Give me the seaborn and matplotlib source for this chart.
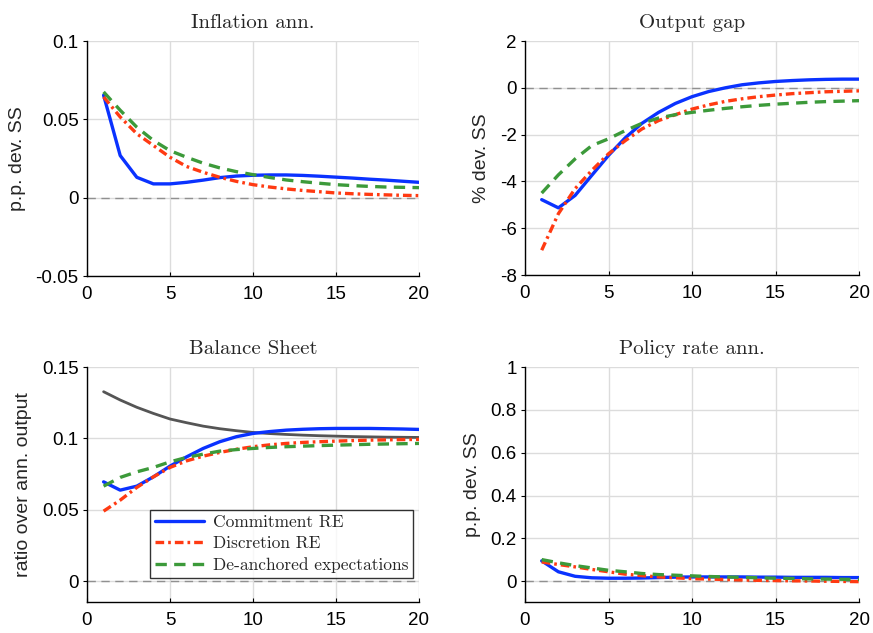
import numpy as np
import pandas as pd
import matplotlib
matplotlib.use("Agg")
import matplotlib.pyplot as plt
import seaborn as sns
from matplotlib.ticker import FuncFormatter

sns.set_style("white")
plt.rcParams["font.family"] = ["Liberation Sans", "DejaVu Sans"]
plt.rcParams["axes.unicode_minus"] = False

t = list(range(1, 21))

# Inflation ann. (p.p. dev. SS)
infl_commit = [0.0654, 0.0269, 0.0130, 0.0088, 0.0088, 0.0098, 0.0112, 0.0128, 0.0138, 0.0143,
               0.0145, 0.0145, 0.0142, 0.0137, 0.0131, 0.0125, 0.0118, 0.0112, 0.0105, 0.0098]
infl_discr = [0.0643, 0.0515, 0.0408, 0.0333, 0.0258, 0.0199, 0.0162, 0.0130, 0.0104, 0.0083,
              0.0068, 0.0056, 0.0046, 0.0038, 0.0030, 0.0025, 0.0021, 0.0018, 0.0015, 0.0013]
infl_deanch = [0.0675, 0.0558, 0.0450, 0.0365, 0.0300, 0.0258, 0.0220, 0.0190, 0.0166, 0.0147,
               0.0129, 0.0113, 0.0102, 0.0092, 0.0083, 0.0077, 0.0072, 0.0068, 0.0066, 0.0064]

# Output gap (% dev. SS)
gap_commit = [-4.78, -5.13, -4.60, -3.74, -2.89, -2.14, -1.52, -1.05, -0.67, -0.38,
              -0.16, 0.00, 0.13, 0.21, 0.27, 0.31, 0.34, 0.36, 0.37, 0.37]
gap_discr = [-6.94, -5.38, -4.31, -3.53, -2.82, -2.26, -1.76, -1.40, -1.15, -0.91,
             -0.73, -0.58, -0.47, -0.38, -0.31, -0.25, -0.21, -0.17, -0.15, -0.13]
gap_deanch = [-4.50, -3.72, -3.04, -2.47, -2.18, -1.83, -1.52, -1.29, -1.15, -1.05,
              -0.96, -0.88, -0.81, -0.75, -0.70, -0.66, -0.62, -0.59, -0.57, -0.55]

# Balance Sheet (ratio over ann. output)
bs_commit = [0.0696, 0.0638, 0.0666, 0.0731, 0.0806, 0.0871, 0.0930, 0.0977, 0.1012, 0.1035,
             0.1048, 0.1058, 0.1064, 0.1068, 0.1070, 0.1070, 0.1070, 0.1068, 0.1066, 0.1063]
bs_discr = [0.0491, 0.0568, 0.0657, 0.0731, 0.0797, 0.0843, 0.0876, 0.0902, 0.0924, 0.0942,
            0.0955, 0.0965, 0.0972, 0.0977, 0.0981, 0.0985, 0.0988, 0.0990, 0.0992, 0.0993]
bs_deanch = [0.0666, 0.0727, 0.0766, 0.0797, 0.0836, 0.0867, 0.0890, 0.0911, 0.0922, 0.0930,
             0.0937, 0.0942, 0.0946, 0.0950, 0.0953, 0.0956, 0.0959, 0.0961, 0.0963, 0.0965]
bs_ss = [0.1327, 0.1269, 0.1218, 0.1175, 0.1136, 0.1110, 0.1086, 0.1068, 0.1054, 0.1042,
         0.1034, 0.1028, 0.1023, 0.1019, 0.1016, 0.1013, 0.1011, 0.1009, 0.1008, 0.1007]

# Policy rate ann. (p.p. dev. SS)
pr_commit = [0.095, 0.044, 0.023, 0.016, 0.014, 0.014, 0.015, 0.017, 0.019, 0.020,
             0.020, 0.020, 0.020, 0.019, 0.019, 0.018, 0.018, 0.018, 0.017, 0.017]
pr_discr = [0.090, 0.078, 0.067, 0.055, 0.044, 0.033, 0.026, 0.020, 0.016, 0.012,
            0.010, 0.008, 0.006, 0.004, 0.003, 0.002, 0.001, 0.000, -0.001, -0.002]
pr_deanch = [0.101, 0.086, 0.073, 0.062, 0.051, 0.044, 0.036, 0.031, 0.028, 0.025,
             0.022, 0.020, 0.018, 0.016, 0.014, 0.013, 0.011, 0.010, 0.009, 0.008]

titles = ["Inflation ann.", "Output gap", "Balance Sheet", "Policy rate ann."]
ylabels = ["p.p. dev. SS", "% dev. SS", "ratio over ann. output", "p.p. dev. SS"]
labels = ["Commitment RE", "Discretion RE", "De-anchored expectations"]
ylims = [(-0.05, 0.1), (-8, 2), (-0.0145, 0.15), (-0.097, 1.0)]
yticks = [[-0.05, 0, 0.05, 0.1], [-8, -6, -4, -2, 0, 2], [0, 0.05, 0.1, 0.15],
          [0, 0.2, 0.4, 0.6, 0.8, 1]]
xticks = [0, 5, 10, 15, 20]

series = [
    (infl_commit, infl_discr, infl_deanch),
    (gap_commit, gap_discr, gap_deanch),
    (bs_commit, bs_discr, bs_deanch),
    (pr_commit, pr_discr, pr_deanch),
]

colors = ["#0a32ff", "#ff3a12", "#3c9a3a"]
dash_styles = [None, (2.6, 1.2, 0.8, 1.2), (3.4, 2.2)]

fig = plt.figure(figsize=(8.73, 6.33), dpi=100)
positions = [
    [87 / 873, 1 - 276 / 633, 332 / 873, 235 / 633],
    [525 / 873, 1 - 275 / 633, 334 / 873, 234 / 633],
    [87 / 873, 1 - 602 / 633, 332 / 873, 235 / 633],
    [525 / 873, 1 - 602 / 633, 334 / 873, 235 / 633],
]

def fmt(v, pos):
    return "%g" % round(v, 6)

for i in range(4):
    ax = fig.add_axes(positions[i])
    ax.set_xlim(0, 20)
    ax.set_ylim(*ylims[i])
    ax.set_xticks(xticks)
    ax.set_yticks(yticks[i])
    ax.grid(True, color="#dcdcdc", lw=1.0)
    ax.set_axisbelow(True)
    ax.axhline(0, color="#909090", lw=1.0, dashes=(6, 4), zorder=1.5)
    if i == 2:
        sns.lineplot(x=t, y=bs_ss, ax=ax, color="#555555", lw=2.0, errorbar=None)
    for j, (vals, c, d) in enumerate(zip(series[i], colors, dash_styles)):
        sns.lineplot(x=t, y=vals, ax=ax, color=c, lw=2.4, errorbar=None,
                     label=labels[j] if i == 2 else None)
        if d is not None:
            ax.lines[-1].set_dashes(d)
    for s in ["top", "right"]:
        ax.spines[s].set_visible(False)
    for s in ["left", "bottom"]:
        ax.spines[s].set_color("black")
        ax.spines[s].set_linewidth(1.0)
    ax.tick_params(axis="y", direction="out", length=3, width=0.8, labelsize=13.5,
                   colors="black", left=True, pad=3)
    ax.tick_params(axis="x", direction="in", length=3, width=0.8, labelsize=13.5,
                   colors="black", bottom=True, pad=7)
    ax.yaxis.set_major_formatter(FuncFormatter(fmt))
    ax.xaxis.set_major_formatter(FuncFormatter(fmt))
    ax.set_title(titles[i], fontfamily="cmr10", fontsize=15, pad=9)
    ax.set_ylabel(ylabels[i], fontsize=14, labelpad=7)
    ax.set_xlabel("")
    if i == 2:
        h, l = ax.get_legend_handles_labels()
        h = h[-3:]
        l = l[-3:]
        for hh, d in zip(h, dash_styles):
            if d is not None:
                hh.set_dashes(d)
        leg = ax.legend(h, l, loc="lower left", bbox_to_anchor=(0.19, 0.103),
                        prop={"family": "cmr10", "size": 12.5}, frameon=True,
                        fancybox=False, edgecolor="black", handlelength=2.8,
                        borderpad=0.3, labelspacing=0.32, handletextpad=0.5,
                        borderaxespad=0)
        leg.get_frame().set_linewidth(1.0)
    else:
        if ax.get_legend() is not None:
            ax.get_legend().remove()

fig.savefig("out.png", dpi=100)
